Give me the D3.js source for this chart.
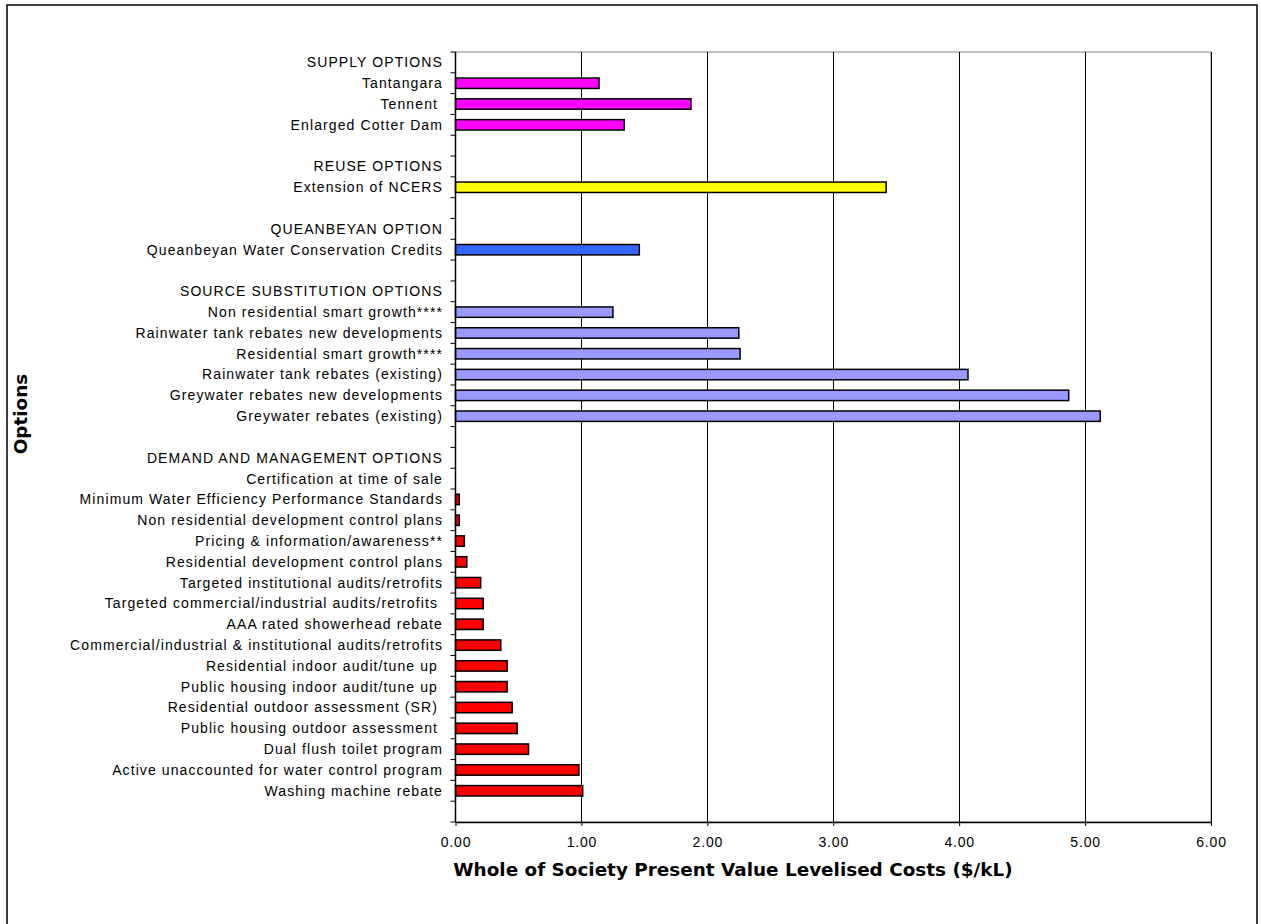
<!DOCTYPE html>
<html>
<head>
<meta charset="utf-8">
<script src="https://cdn.jsdelivr.net/npm/d3@7"></script>
<style>
  html, body { margin: 0; padding: 0; background: #fff; }
  svg { display: block; }
  .cat { font-family: "Liberation Sans", Arial, sans-serif; font-size: 14px; letter-spacing: 1.1px; white-space: pre; }
  .x-axis text { font-family: "Liberation Sans", Arial, sans-serif; font-size: 14px; letter-spacing: 0.8px; }
  .axis-title { font-family: "DejaVu Sans", Verdana, sans-serif; font-size: 18.4px; font-weight: bold; }
</style>
</head>
<body>
<svg id="chart" width="1261" height="924"></svg>
<script>
// Option names, top to bottom; group headings and spacer rows have no bar
const labels = [
  "SUPPLY OPTIONS",
  "Tantangara",
  "Tennent ",
  "Enlarged Cotter Dam",
  "",
  "REUSE OPTIONS",
  "Extension of NCERS",
  "",
  "QUEANBEYAN OPTION",
  "Queanbeyan Water Conservation Credits",
  "",
  "SOURCE SUBSTITUTION OPTIONS",
  "Non residential smart growth****",
  "Rainwater tank rebates new developments",
  "Residential smart growth****",
  "Rainwater tank rebates (existing)",
  "Greywater rebates new developments",
  "Greywater rebates (existing)",
  "",
  "DEMAND AND MANAGEMENT OPTIONS",
  "Certification at time of sale",
  "Minimum Water Efficiency Performance Standards",
  "Non residential development control plans",
  "Pricing & information/awareness**",
  "Residential development control plans",
  "Targeted institutional audits/retrofits",
  "Targeted commercial/industrial audits/retrofits ",
  "AAA rated showerhead rebate",
  "Commercial/industrial & institutional audits/retrofits",
  "Residential indoor audit/tune up ",
  "Public housing indoor audit/tune up ",
  "Residential outdoor assessment (SR) ",
  "Public housing outdoor assessment ",
  "Dual flush toilet program",
  "Active unaccounted for water control program",
  "Washing machine rebate",
  ""
];

// Whole of society present value levelised cost, $/kL (null = no bar)
const costs = [
  null, 1.14, 1.87, 1.34,
  null,
  null, 3.42,
  null,
  null, 1.46,
  null,
  null, 1.25, 2.25, 2.26, 4.07, 4.87, 5.12,
  null,
  null, null, 0.03, 0.03, 0.07, 0.09, 0.20, 0.22, 0.22, 0.36, 0.41, 0.41, 0.45, 0.49, 0.58, 0.98, 1.01,
  null
];

// Option group of each row
const groups = [
  "supply", "supply", "supply", "supply",
  "",
  "reuse", "reuse",
  "",
  "queanbeyan", "queanbeyan",
  "",
  "source", "source", "source", "source", "source", "source", "source",
  "",
  "demand", "demand", "demand", "demand", "demand", "demand", "demand", "demand", "demand",
  "demand", "demand", "demand", "demand", "demand", "demand", "demand", "demand",
  ""
];

const groupNames = ["supply", "reuse", "queanbeyan", "source", "demand"];
const groupColors = ["#FF00FF", "#FFFF00", "#3366FF", "#9999FF", "#FF0000"];

const xTicks = [0, 1, 2, 3, 4, 5, 6];
const xTitle = "Whole of Society Present Value Levelised Costs ($/kL)";
const yTitle = "Options";

const svg = d3.select("#chart");

const plot = { left: 455.5, right: 1211, top: 52, bottom: 822 };

const x = d3.scaleLinear().domain([0, 6]).range([plot.left, plot.right]);
const y = d3.scaleBand()
  .domain(d3.range(labels.length))
  .range([plot.top, plot.bottom])
  .paddingInner(0.5)
  .paddingOuter(0.25);
const color = d3.scaleOrdinal().domain(groupNames).range(groupColors);

// Chart frame (runs past the lower edge of the page)
svg.append("rect")
  .attr("x", 7).attr("y", 5)
  .attr("width", 1250).attr("height", 930)
  .attr("fill", "#fff")
  .attr("stroke", "#000")
  .attr("stroke-width", 1.5);

// Plot area border
svg.append("rect")
  .attr("x", plot.left).attr("y", plot.top)
  .attr("width", plot.right - plot.left).attr("height", plot.bottom - plot.top)
  .attr("fill", "none")
  .attr("stroke", "#808080")
  .attr("stroke-width", 1);

// Vertical gridlines
svg.append("g")
  .selectAll("line")
  .data(xTicks.filter(d => d > 0))
  .join("line")
  .attr("x1", d => Math.round(x(d)) + 0.5).attr("x2", d => Math.round(x(d)) + 0.5)
  .attr("y1", plot.top).attr("y2", plot.bottom)
  .attr("stroke", "#000")
  .attr("stroke-width", 1);

// Bars
const rows = labels.map((label, i) => ({ i, label, value: costs[i], group: groups[i] }));
svg.append("g")
  .selectAll("rect")
  .data(rows.filter(d => d.value != null))
  .join("rect")
  .attr("x", x(0))
  .attr("y", d => y(d.i))
  .attr("width", d => x(d.value) - x(0))
  .attr("height", y.bandwidth())
  .attr("fill", d => color(d.group))
  .attr("stroke", "#000")
  .attr("stroke-width", 1.5);

// Bottom axis
const xAxis = d3.axisBottom(x)
  .tickValues(xTicks)
  .tickFormat(d3.format(".2f"))
  .tickSize(4)
  .tickSizeOuter(0);
const gx = svg.append("g")
  .attr("class", "x-axis")
  .attr("transform", `translate(0,${plot.bottom})`)
  .call(xAxis);
gx.select(".domain").attr("stroke", "#000").attr("stroke-width", 1.5);
gx.selectAll(".tick line").attr("stroke", "#000");
gx.selectAll(".tick text")
  .attr("fill", "#000")
  .attr("y", 15);

// Left axis: ticks at row boundaries
const step = y.step();
const bounds = d3.range(labels.length + 1).map(k => plot.top + k * step);
const gy = svg.append("g");
gy.append("line")
  .attr("x1", plot.left).attr("x2", plot.left)
  .attr("y1", plot.top).attr("y2", plot.bottom)
  .attr("stroke", "#000").attr("stroke-width", 1.5);
gy.selectAll("line.tk")
  .data(bounds)
  .join("line")
  .attr("class", "tk")
  .attr("x1", plot.left - 5).attr("x2", plot.left)
  .attr("y1", d => d).attr("y2", d => d)
  .attr("stroke", "#000").attr("stroke-width", 1);

// Row labels
svg.append("g")
  .selectAll("text")
  .data(rows.filter(d => d.label !== ""))
  .join("text")
  .attr("class", "cat")
  .attr("x", 443)
  .attr("y", d => y(d.i) + y.bandwidth() / 2)
  .attr("dy", "0.35em")
  .attr("text-anchor", "end")
  .text(d => d.label);

// Axis titles
svg.append("text")
  .attr("class", "axis-title")
  .attr("x", 733)
  .attr("y", 876)
  .attr("text-anchor", "middle")
  .text(xTitle);

svg.append("text")
  .attr("class", "axis-title")
  .attr("transform", "translate(27,414) rotate(-90)")
  .attr("text-anchor", "middle")
  .text(yTitle);
</script>
</body>
</html>
